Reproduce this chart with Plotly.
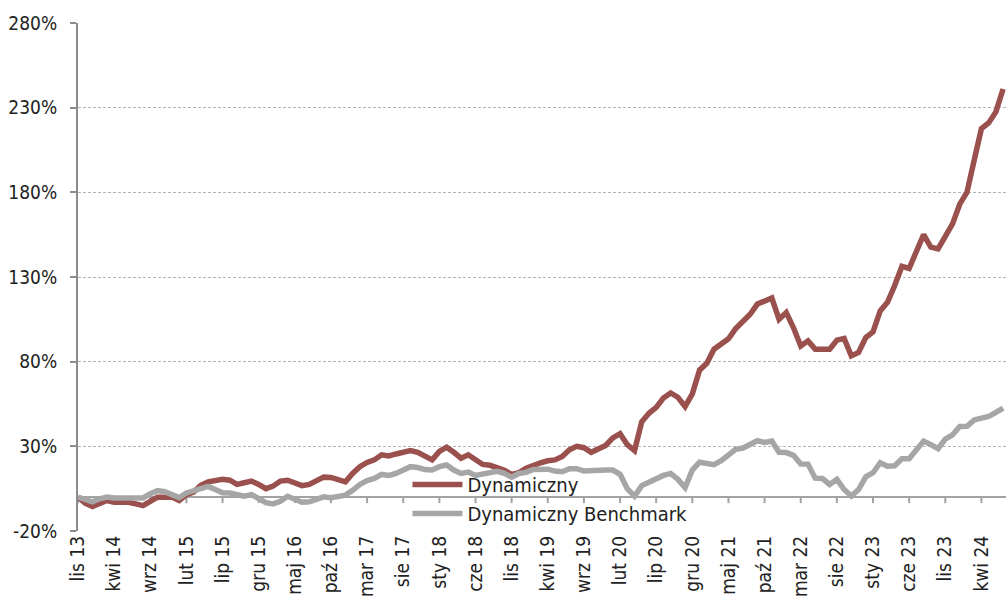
import plotly.graph_objects as go

# Polish month abbreviations, monthly data Nov 2013 .. Jul 2024
month_abbr = ["sty", "lut", "mar", "kwi", "maj", "cze", "lip", "sie", "wrz", "paź", "lis", "gru"]
categories = []
for y in range(2013, 2025):
    for m in range(12):
        if (y == 2013 and m < 10) or (y == 2024 and m > 6):
            continue
        categories.append(f"{month_abbr[m]} {str(y)[2:]}")

dynamiczny = [
    0, -3.5, -5.5, -4, -2, -3, -3, -3, -4, -5,
    -2.5, 0, 0, 0, -2, 1.5, 3, 7, 9, 9.5,
    10.5, 10, 7.5, 8.5, 9.5, 7.5, 5, 6.5, 9.5, 10,
    8.7, 6.8, 7.5, 10, 11.8, 11.6, 10, 9, 14, 18,
    20.5, 22, 25, 24.3, 25.5, 26.6, 27.5, 26.5, 24, 22,
    27, 29.5, 26.5, 23, 25, 22.5, 19.3, 18.8, 17.5, 15.8,
    13.4, 14.5, 17, 18.8, 20.3, 21.5, 22, 24, 28, 30,
    29.2, 26.5, 28.5, 30.5, 35, 37.5, 31, 27.5, 44.5, 49.5,
    53, 58.5, 61.5, 59, 53.5, 61, 75, 79, 87.4, 90,
    93.5, 99.5, 104, 108, 114, 116, 117.6, 105, 109, 100,
    89.3, 92.3, 87.4, 87.4, 87.4, 92.7, 93.7, 83.4, 85.4, 94.3,
    97.6, 110, 115, 125, 136.3, 135.1, 145, 155, 147.6, 146.6,
    154, 161.4, 173, 180, 199, 217.6, 221, 227.5, 241,
]

benchmark = [
    0, -1.5, -2.8, -1, 0, -0.5, -0.5, -0.5, -0.5, -0.5,
    2, 3.8, 3.2, 1.5, -0.3, 2.5, 3.8, 5, 6.3, 4.5,
    2.6, 2.4, 1.2, 0.5, 1.5, -1, -3.3, -4, -2.5, 0.5,
    -1.5, -3, -2.8, -1.2, 0.2, -0.3, 0.5, 1.2, 4, 7.5,
    9.8, 11, 13.4, 12.8, 14, 16, 18, 17.5, 16.3, 16,
    18, 19, 16, 14, 14.8, 12.8, 13.5, 15, 15.2, 14,
    11.8, 14, 14.6, 16.3, 16.1, 16.5, 15.4, 15, 16.8, 16.8,
    15.4, 15.8, 16, 16, 16, 13.5, 5, 0.6, 6.8, 9,
    10.8, 12.8, 14, 10.5, 5.6, 16, 20.6, 20.3, 19.2, 21.5,
    25, 28.2, 29, 31.5, 33.3, 32.3, 33.1, 26.5, 26.3, 24.7,
    19.6, 19.5, 11.2, 11, 7.5, 10.5, 4.5, 0.6, 4.5, 12,
    14.4, 20.3, 18.3, 18.5, 22.7, 22.7, 28.5, 33.1, 31, 28.6,
    34.3, 36.8, 41.7, 41.8, 45.6, 46.6, 47.6, 50, 52.6,
]

x_tick_labels = categories[::5]
y_tick_values = [-20, 30, 80, 130, 180, 230, 280]
y_tick_labels = ["-20%", "30%", "80%", "130%", "180%", "230%", "280%"]

y_min, y_max = -20, 280
x_range = [0, 128.4]
FONT = "Liberation Sans Narrow, DejaVu Sans Condensed, Roboto, sans-serif"
AXIS_GRAY = "#A3A3A3"

HEIGHT, M_TOP, M_BOTTOM = 606, 23, 75
plot_h = HEIGHT - M_TOP - M_BOTTOM
tick_len_units = 6 * (y_max - y_min) / plot_h  # 6 px expressed in axis units

fig = go.Figure()
# category tick marks hanging below the zero axis line
n_ticks = len(x_tick_labels)
fig.add_trace(go.Scatter(
    x=x_tick_labels, y=[0] * n_ticks, mode="markers", showlegend=False,
    marker=dict(size=1, color="rgba(0,0,0,0)"), hoverinfo="skip",
    error_y=dict(type="data", symmetric=False, array=[0] * n_ticks,
                 arrayminus=[tick_len_units] * n_ticks,
                 width=0, thickness=2, color=AXIS_GRAY),
))
fig.add_trace(go.Scatter(
    x=categories, y=dynamiczny, mode="lines", name="Dynamiczny",
    line=dict(color="#9A504C", width=5.5), hoverinfo="skip",
))
fig.add_trace(go.Scatter(
    x=categories, y=benchmark, mode="lines", name="Dynamiczny Benchmark",
    line=dict(color="#A6A6A6", width=5.5), hoverinfo="skip",
))

fig.update_layout(
    width=1006, height=HEIGHT,
    margin=dict(l=78, r=0, t=M_TOP, b=M_BOTTOM),
    paper_bgcolor="white", plot_bgcolor="white",
    font=dict(family=FONT, size=18, color="#222222"),
    showlegend=True,
    legend=dict(
        x=0.355, y=0.13, xanchor="left", yanchor="top",
        bgcolor="rgba(0,0,0,0)", font=dict(size=20, color="#222222"),
        tracegroupgap=0, itemwidth=50,
    ),
    xaxis=dict(
        type="category", categoryorder="array", categoryarray=categories,
        range=x_range,
        tickmode="array", tickvals=x_tick_labels, ticktext=x_tick_labels,
        tickangle=-90, ticks="", showline=False, showgrid=False,
        zeroline=False, tickfont=dict(size=19, color="#222222"),
    ),
    yaxis=dict(
        range=[y_min, y_max],
        tickmode="array", tickvals=y_tick_values, ticktext=y_tick_labels,
        showline=True, linecolor="#8C8C8C", linewidth=2,
        ticks="outside", ticklen=6, tickwidth=2, tickcolor="#8C8C8C",
        showgrid=True, gridcolor="#B4B4B4", gridwidth=1, griddash="3px,2px",
        zeroline=True, zerolinecolor=AXIS_GRAY, zerolinewidth=2,
        ticklabelstandoff=9,
        tickfont=dict(size=19, color="#222222"),
    ),
)

fig.write_html(
    "out.html",
    config={"displayModeBar": False},
    post_script="document.body.style.margin='0px';",
)
